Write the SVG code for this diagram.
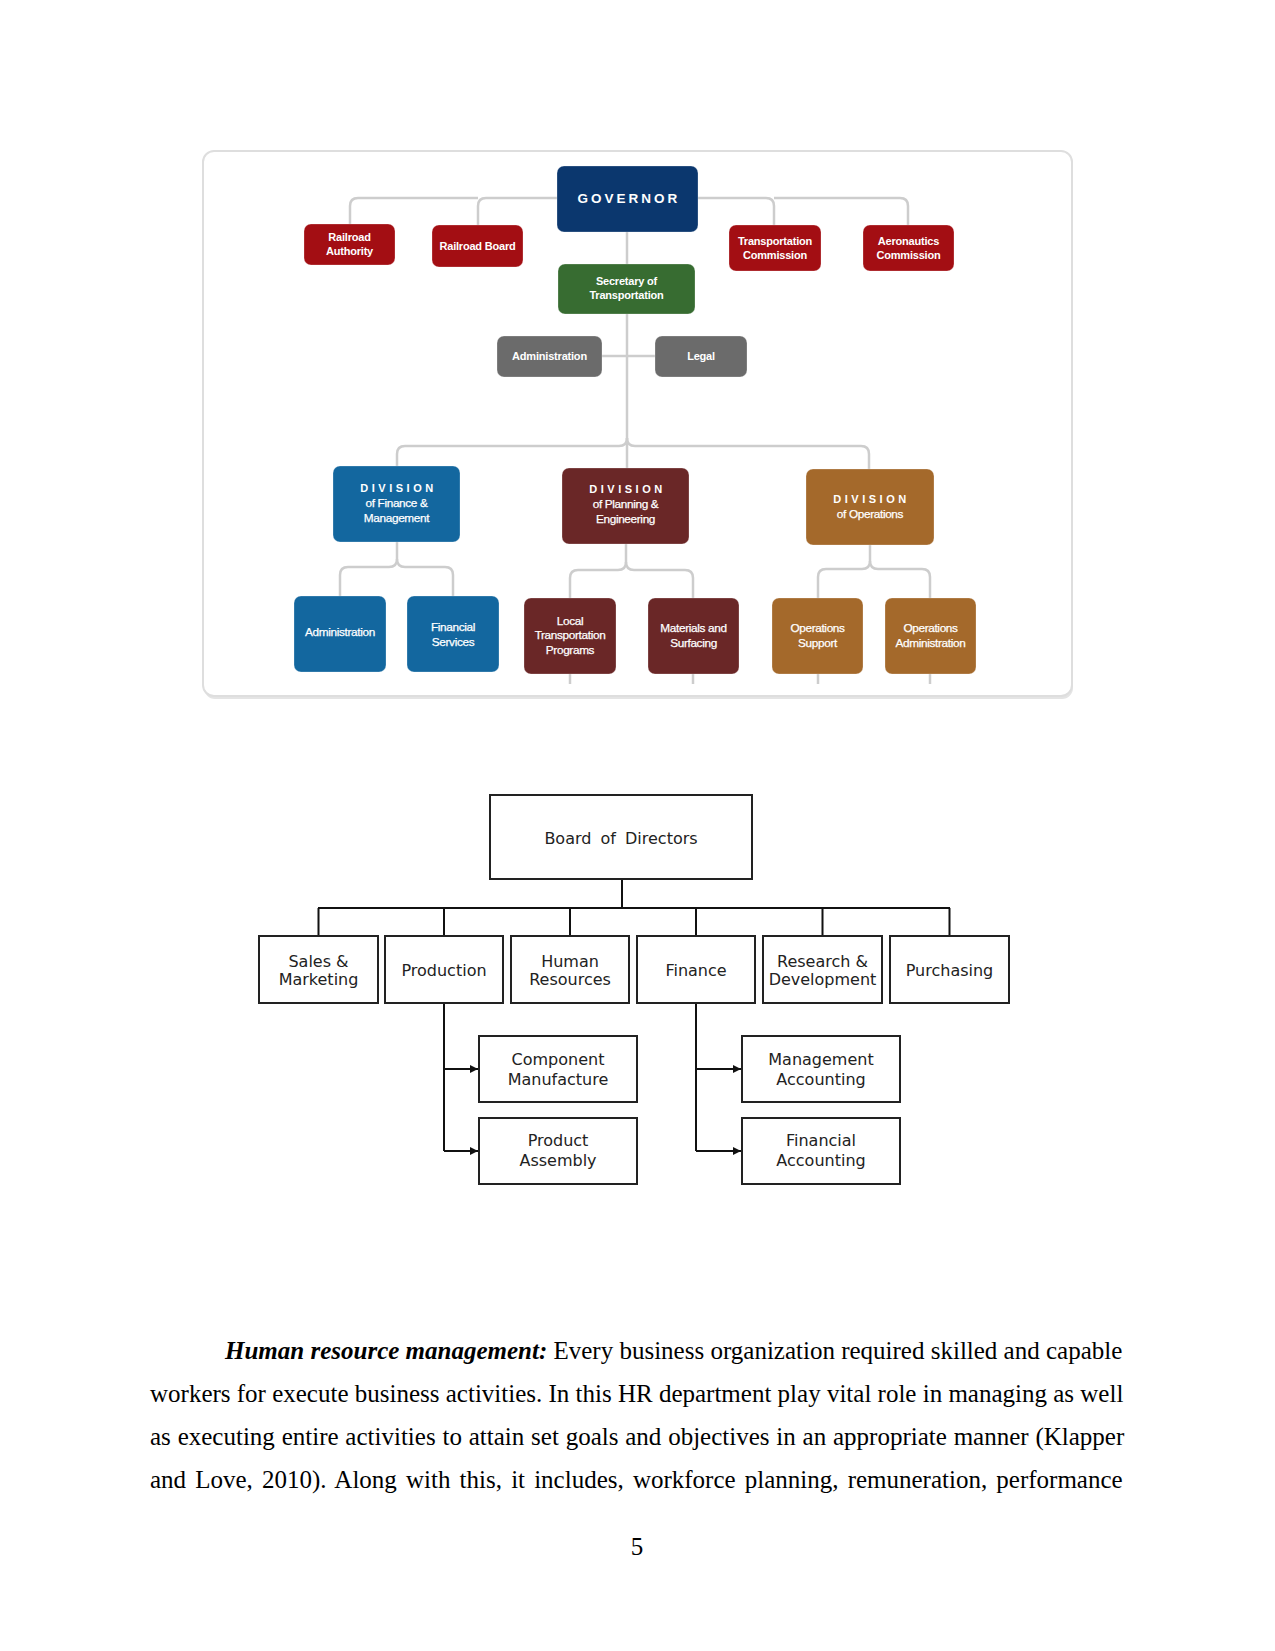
<svg xmlns="http://www.w3.org/2000/svg" width="1275" height="1651" viewBox="0 0 1275 1651">
<defs>
<style>
.bx{stroke:rgba(255,255,255,0.25);stroke-width:1}
.t{fill:#fff;font-family:"Liberation Sans",Arial,sans-serif;font-weight:bold;font-size:11px;text-anchor:middle;letter-spacing:-0.2px}
.tn{fill:#fff;stroke:#fff;stroke-width:0.25px;font-family:"Liberation Sans",Arial,sans-serif;font-size:11.8px;text-anchor:middle;letter-spacing:-0.35px}
.dv{fill:#fff;font-family:"Liberation Sans",Arial,sans-serif;font-weight:bold;font-size:11px;text-anchor:middle;letter-spacing:3.5px}
.gc{fill:none;stroke:#cdcdcd;stroke-width:2.5}
.red{fill:#a30e13}
.blue{fill:#13679f}
.maroon{fill:#6a2727}
.brown{fill:#a4692b}
.gray{fill:#6b6b6b}
.wb{fill:#fff;stroke:#222;stroke-width:2}
.bl{fill:none;stroke:#111;stroke-width:2}
.bt{fill:#222;font-family:"DejaVu Sans",Verdana,sans-serif;font-size:16px;text-anchor:middle}
.p{fill:#000;font-family:"Liberation Serif","Times New Roman",serif;font-size:25px}
</style>
<marker id="arr" viewBox="0 0 8 8" refX="8" refY="4" markerWidth="8" markerHeight="8" markerUnits="userSpaceOnUse" orient="auto">
<path d="M0,0 L8,4 L0,8 z" fill="#111"/>
</marker>
</defs>
<rect width="1275" height="1651" fill="#fff"/>

<!-- Top panel -->
<rect x="204" y="153" width="869" height="546" rx="11" fill="#e4e4e4"/>
<rect x="203" y="151" width="869" height="545" rx="11" fill="#fff" stroke="#dedede" stroke-width="2"/>

<g id="connectors-top">
<path class="gc" d="M557,198 H486 Q478,198 478,206 V225"/>
<path class="gc" d="M478,198 H358 Q350,198 350,206 V224"/>
<path class="gc" d="M698,198 H766 Q774,198 774,206 V225"/>
<path class="gc" d="M774,198 H900 Q908,198 908,206 V225"/>
<path class="gc" d="M627,232 V264"/>
<path class="gc" d="M627,314 V468"/>
<path class="gc" d="M602,356 H655"/>
<path class="gc" d="M627,438 Q627,446 619,446 H405 Q397,446 397,454 V466"/>
<path class="gc" d="M627,438 Q627,446 635,446 H861 Q869,446 869,454 V469"/>
<path class="gc" d="M397,542 V559 Q397,567 389,567 H348 Q340,567 340,575 V596"/>
<path class="gc" d="M397,559 Q397,567 405,567 H445 Q453,567 453,575 V596"/>
<path class="gc" d="M626,544 V562 Q626,570 618,570 H578 Q570,570 570,578 V598"/>
<path class="gc" d="M626,562 Q626,570 634,570 H685 Q693,570 693,578 V598"/>
<path class="gc" d="M870,545 V561 Q870,569 862,569 H826 Q818,569 818,577 V598"/>
<path class="gc" d="M870,561 Q870,569 878,569 H922 Q930,569 930,577 V598"/>
<path class="gc" d="M570,674 V684 M693,674 V684 M818,674 V684 M930,674 V684"/>
</g>

<g id="governor">
<rect class="bx" x="557" y="166" width="141" height="66" rx="7" fill="#0b376e"/>
<text class="t" x="629" y="203" style="font-size:13.5px;letter-spacing:3px">GOVERNOR</text>
</g>
<g id="railroad-authority">
<rect class="bx red" x="304" y="224" width="91" height="41" rx="7"/>
<text class="t" x="349.5" y="241">Railroad</text>
<text class="t" x="349.5" y="255">Authority</text>
</g>
<g id="railroad-board">
<rect class="bx red" x="432" y="225" width="91" height="42" rx="7"/>
<text class="t" x="477.5" y="250">Railroad Board</text>
</g>
<g id="transportation-commission">
<rect class="bx red" x="729" y="225" width="92" height="46" rx="7"/>
<text class="t" x="775" y="245">Transportation</text>
<text class="t" x="775" y="259">Commission</text>
</g>
<g id="aeronautics-commission">
<rect class="bx red" x="863" y="225" width="91" height="46" rx="7"/>
<text class="t" x="908.5" y="245">Aeronautics</text>
<text class="t" x="908.5" y="259">Commission</text>
</g>
<g id="secretary">
<rect class="bx" x="558" y="264" width="137" height="50" rx="7" fill="#376c31"/>
<text class="t" x="626.5" y="285">Secretary of</text>
<text class="t" x="626.5" y="299">Transportation</text>
</g>
<g id="administration-top">
<rect class="bx gray" x="497" y="336" width="105" height="41" rx="7"/>
<text class="t" x="549.5" y="360">Administration</text>
</g>
<g id="legal">
<rect class="bx gray" x="655" y="336" width="92" height="41" rx="7"/>
<text class="t" x="701" y="360">Legal</text>
</g>

<g id="division-finance">
<rect class="bx blue" x="333" y="466" width="127" height="76" rx="7"/>
<text class="dv" x="398.5" y="492">DIVISION</text>
<text class="tn" x="396.5" y="507">of Finance &amp;</text>
<text class="tn" x="396.5" y="522">Management</text>
</g>
<g id="division-planning">
<rect class="bx maroon" x="562" y="468" width="127" height="76" rx="7"/>
<text class="dv" x="627.5" y="493">DIVISION</text>
<text class="tn" x="625.5" y="508">of Planning &amp;</text>
<text class="tn" x="625.5" y="523">Engineering</text>
</g>
<g id="division-operations">
<rect class="bx brown" x="806" y="469" width="128" height="76" rx="7"/>
<text class="dv" x="871.5" y="503">DIVISION</text>
<text class="tn" x="870" y="518">of Operations</text>
</g>

<g id="administration-finance">
<rect class="bx blue" x="294" y="596" width="92" height="76" rx="7"/>
<text class="tn" x="340" y="636">Administration</text>
</g>
<g id="financial-services">
<rect class="bx blue" x="407" y="596" width="92" height="76" rx="7"/>
<text class="tn" x="453" y="631">Financial</text>
<text class="tn" x="453" y="646">Services</text>
</g>
<g id="local-transportation">
<rect class="bx maroon" x="524" y="598" width="92" height="76" rx="7"/>
<text class="tn" x="570" y="625">Local</text>
<text class="tn" x="570" y="639">Transportation</text>
<text class="tn" x="570" y="654">Programs</text>
</g>
<g id="materials-surfacing">
<rect class="bx maroon" x="648" y="598" width="91" height="76" rx="7"/>
<text class="tn" x="693.5" y="632">Materials and</text>
<text class="tn" x="693.5" y="647">Surfacing</text>
</g>
<g id="operations-support">
<rect class="bx brown" x="772" y="598" width="91" height="76" rx="7"/>
<text class="tn" x="817.5" y="632">Operations</text>
<text class="tn" x="817.5" y="647">Support</text>
</g>
<g id="operations-administration">
<rect class="bx brown" x="885" y="598" width="91" height="76" rx="7"/>
<text class="tn" x="930.5" y="632">Operations</text>
<text class="tn" x="930.5" y="647">Administration</text>
</g>

<!-- Bottom chart -->
<g id="connectors-bottom">
<path class="bl" d="M622,879 V908 M318,908 H950 M318.5,908 V936 M444,908 V936 M570,908 V936 M696,908 V936 M822.5,908 V936 M949.5,908 V936"/>
<path class="bl" d="M444,1003 V1151"/>
<path class="bl" d="M444,1069 H478" marker-end="url(#arr)"/>
<path class="bl" d="M444,1151 H478" marker-end="url(#arr)"/>
<path class="bl" d="M696,1003 V1151"/>
<path class="bl" d="M696,1069 H741" marker-end="url(#arr)"/>
<path class="bl" d="M696,1151 H741" marker-end="url(#arr)"/>
</g>
<g id="board">
<rect class="wb" x="490" y="795" width="262" height="84"/>
<text class="bt" x="621" y="844" word-spacing="4">Board of Directors</text>
</g>
<g id="sales-marketing">
<rect class="wb" x="259" y="936" width="119" height="67"/>
<text class="bt" x="318.5" y="967">Sales &amp;</text>
<text class="bt" x="318.5" y="985">Marketing</text>
</g>
<g id="production">
<rect class="wb" x="385" y="936" width="118" height="67"/>
<text class="bt" x="444" y="976">Production</text>
</g>
<g id="human-resources">
<rect class="wb" x="511" y="936" width="118" height="67"/>
<text class="bt" x="570" y="967">Human</text>
<text class="bt" x="570" y="985">Resources</text>
</g>
<g id="finance">
<rect class="wb" x="637" y="936" width="118" height="67"/>
<text class="bt" x="696" y="976">Finance</text>
</g>
<g id="research-development">
<rect class="wb" x="763" y="936" width="119" height="67"/>
<text class="bt" x="822.5" y="967">Research &amp;</text>
<text class="bt" x="822.5" y="985">Development</text>
</g>
<g id="purchasing">
<rect class="wb" x="890" y="936" width="119" height="67"/>
<text class="bt" x="949.5" y="976">Purchasing</text>
</g>
<g id="component-manufacture">
<rect class="wb" x="479" y="1036" width="158" height="66"/>
<text class="bt" x="558" y="1065">Component</text>
<text class="bt" x="558" y="1085">Manufacture</text>
</g>
<g id="product-assembly">
<rect class="wb" x="479" y="1118" width="158" height="66"/>
<text class="bt" x="558" y="1146">Product</text>
<text class="bt" x="558" y="1166">Assembly</text>
</g>
<g id="management-accounting">
<rect class="wb" x="742" y="1036" width="158" height="66"/>
<text class="bt" x="821" y="1065">Management</text>
<text class="bt" x="821" y="1085">Accounting</text>
</g>
<g id="financial-accounting">
<rect class="wb" x="742" y="1118" width="158" height="66"/>
<text class="bt" x="821" y="1146">Financial</text>
<text class="bt" x="821" y="1166">Accounting</text>
</g>

<!-- Paragraph -->
<text class="p" x="225" y="1359"><tspan font-weight="bold" font-style="italic">Human resource management:</tspan> Every business organization required skilled and capable</text>
<text class="p" x="150" y="1402">workers for execute business activities. In this HR department play vital role in managing as well</text>
<text class="p" x="150" y="1445" word-spacing="0.57">as executing entire activities to attain set goals and objectives in an appropriate manner (Klapper</text>
<text class="p" x="150" y="1488" word-spacing="2.9">and Love, 2010). Along with this, it includes, workforce planning, remuneration, performance</text>
<text class="p" x="637" y="1555" text-anchor="middle">5</text>
</svg>
